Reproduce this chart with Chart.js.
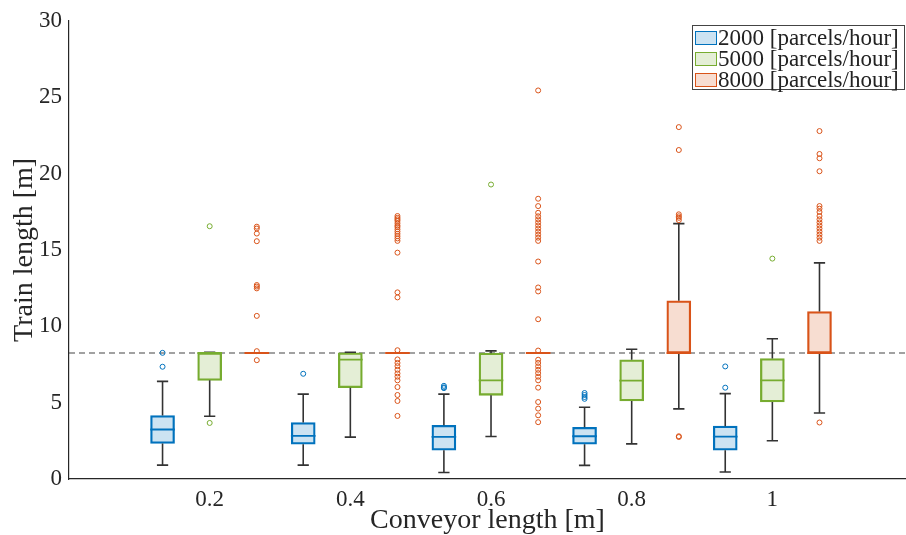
<!DOCTYPE html>
<html>
<head>
<meta charset="utf-8">
<script src="https://cdn.jsdelivr.net/npm/chart.js@4/dist/chart.umd.min.js"></script>
<style>
  body { margin: 0; background: #fff; }
  #wrap { position: relative; width: 906px; height: 535px; overflow: hidden; }
  #legend {
    position: absolute; left: 692px; top: 25px; width: 211px; height: 62px;
    border: 1px solid #444; background: #fff;
    font-family: 'Liberation Serif', serif; font-size: 23px; color: #222;
    padding-top: 1px; box-sizing: content-box;
  }
  .row { display: flex; align-items: center; height: 21px; white-space: nowrap; }
  .sw { width: 20px; height: 12px; margin: 0 1px 0 2px; border: 1.5px solid; flex: none; }
</style>
</head>
<body>
<div id="wrap">
  <canvas id="chart" width="911" height="535"></canvas>
  <div id="legend"></div>
</div>
<script>
// conveyor lengths (x) and throughput series
const lengths = [0.2, 0.4, 0.6, 0.8, 1];
const seriesNames = ['2000 [parcels/hour]', '5000 [parcels/hour]', '8000 [parcels/hour]'];
const limitLength = 8.25;

// 2000 parcels/hour
const low2000 = [0.91, 0.91, 0.43, 0.89, 0.46];
const q1_2000 = [2.33, 2.28, 1.89, 2.28, 1.89];
const med2000 = [3.24, 2.83, 2.76, 2.80, 2.78];
const q3_2000 = [4.15, 3.70, 3.52, 3.39, 3.46];
const high2000 = [6.39, 5.56, 5.56, 4.70, 5.59];
const out2000 = [[8.26, 7.35], [6.89], [6.1, 6.0, 5.95], [5.63, 5.5, 5.37, 5.25], [7.37, 5.98]];

// 5000 parcels/hour
const low5000 = [4.11, 2.74, 2.78, 2.30, 2.50];
const q1_5000 = [6.46, 5.98, 5.48, 5.11, 5.04];
const med5000 = [8.25, 7.81, 6.46, 6.44, 6.46];
const q3_5000 = [8.26, 8.26, 8.24, 7.81, 7.89];
const high5000 = [8.30, 8.30, 8.39, 8.50, 9.18];
const out5000 = [[16.55, 3.67], [], [19.28], [], [14.43]];

// 8000 parcels/hour
const low8000 = [8.25, 8.25, 8.25, 4.59, 4.32];
const q1_8000 = [8.25, 8.25, 8.25, 8.24, 8.24];
const med8000 = [8.25, 8.25, 8.25, 8.24, 8.24];
const q3_8000 = [8.25, 8.25, 8.25, 11.67, 10.96];
const high8000 = [8.25, 8.25, 8.25, 16.72, 14.15];
const out8000 = [
  [16.52, 16.4, 16.07, 15.57, 12.70, 12.6, 12.48, 10.68, 8.37, 7.78],
  [17.22, 17.1, 17.0, 16.9, 16.75, 16.6, 16.5, 16.35, 16.2, 16.05, 15.9, 15.75, 15.59, 14.82, 12.22, 11.89,
   8.43, 7.83, 7.6, 7.39, 7.15, 6.91, 6.7, 6.46, 6.02, 5.5, 5.11, 4.13],
  [25.44, 18.35, 17.87, 17.43, 17.2, 17.0, 16.8, 16.6, 16.4, 16.2, 16.0, 15.8, 15.59, 14.24, 12.54, 12.28, 10.46,
   8.41, 7.81, 7.6, 7.37, 7.15, 6.93, 6.7, 6.46, 5.98, 5.04, 4.61, 4.17, 3.72],
  [23.04, 21.54, 17.33, 17.2, 17.1, 16.95, 2.80, 2.75],
  [22.78, 21.28, 21.0, 20.15, 17.87, 17.7, 17.48, 17.22, 17.0, 16.8, 16.6, 16.4, 16.2, 16.0, 15.8, 15.59, 3.70]
];

const yTicks = [0, 5, 10, 15, 20, 25, 30];

const colors = ['#0072BD', '#77AC30', '#D95319'];
const fills = ['rgba(0,114,189,0.2)', 'rgba(119,172,48,0.2)', 'rgba(217,83,25,0.2)'];
const offsets = [-0.067, 0, 0.067];
const medHalf = 0.0175, capHalf = 0.008;
const fontFam = "'Liberation Serif', serif";

const stats = [
  {low: low2000, q1: q1_2000, med: med2000, q3: q3_2000, high: high2000, out: out2000},
  {low: low5000, q1: q1_5000, med: med5000, q3: q3_5000, high: high5000, out: out5000},
  {low: low8000, q1: q1_8000, med: med8000, q3: q3_8000, high: high8000, out: out8000}
];

const datasets = [];
const whisk = [];
const gap = x => ({x: x, y: null});

stats.forEach((s, k) => {
  const medPts = [];
  const outPts = [];
  const boxes = [];
  lengths.forEach((L, i) => {
    const x = L + offsets[k];
    boxes.push({x: x, y: [s.q1[i], s.q3[i]]});
    medPts.push({x: x - medHalf, y: s.med[i]}, {x: x + medHalf, y: s.med[i]}, gap(x));
    whisk.push({x: x, y: s.low[i]}, {x: x, y: s.q1[i]}, gap(x));
    whisk.push({x: x, y: s.q3[i]}, {x: x, y: s.high[i]}, gap(x));
    whisk.push({x: x - capHalf, y: s.low[i]}, {x: x + capHalf, y: s.low[i]}, gap(x));
    whisk.push({x: x - capHalf, y: s.high[i]}, {x: x + capHalf, y: s.high[i]}, gap(x));
    s.out[i].forEach(v => outPts.push({x: x, y: v}));
  });
  datasets.push({
    type: 'bar', label: seriesNames[k], data: boxes,
    backgroundColor: fills[k], borderColor: colors[k], borderWidth: 1.6,
    borderSkipped: false, barThickness: 24, grouped: false, order: 3
  });
  datasets.push({
    type: 'line', data: medPts, borderColor: colors[k], borderWidth: 1.8,
    pointRadius: 0, spanGaps: false, fill: false, order: 1
  });
  datasets.push({
    type: 'scatter', data: outPts, showLine: false,
    pointStyle: 'circle', pointRadius: 2.5, borderWidth: 1,
    borderColor: colors[k], backgroundColor: 'rgba(0,0,0,0)', order: 0
  });
});

datasets.push({
  type: 'line', data: whisk, borderColor: '#333', borderWidth: 1.6,
  pointRadius: 0, spanGaps: false, fill: false, order: 2
});
datasets.push({
  type: 'line', data: [{x: 0, y: limitLength}, {x: 1.25, y: limitLength}],
  borderColor: '#444', borderWidth: 1.2, borderDash: [6, 4],
  pointRadius: 0, fill: false, order: 4
});

new Chart(document.getElementById('chart'), {
  type: 'scatter',
  data: { datasets: datasets },
  options: {
    responsive: false,
    animation: false,
    layout: { padding: { top: 19, right: 0, left: 0, bottom: 0 } },
    plugins: { legend: { display: false }, tooltip: { enabled: false } },
    scales: {
      x: {
        type: 'linear', min: 0, max: 1.19, offset: false,
        grid: { display: false, offset: false, drawTicks: false },
        border: { display: true, color: '#262626', width: 1.2 },
        afterBuildTicks: axis => { axis.ticks = lengths.map(v => ({value: v})); },
        afterFit: axis => { axis.height = 56; },
        ticks: {
          padding: 7, color: '#262626', maxRotation: 0,
          font: { family: fontFam, size: 23 },
          callback: v => String(v)
        },
        title: {
          display: true, text: 'Conveyor length [m]', color: '#262626',
          font: { family: fontFam, size: 28, lineHeight: 1.0 }, padding: { top: 0, bottom: 0 }
        }
      },
      y: {
        min: 0, max: 30,
        grid: { display: false, drawTicks: false },
        border: { display: true, color: '#262626', width: 1.2 },
        afterBuildTicks: axis => { axis.ticks = yTicks.map(v => ({value: v})); },
        afterFit: axis => { axis.width = 69; },
        ticks: {
          padding: 7, color: '#262626',
          font: { family: fontFam, size: 23 }
        },
        title: {
          display: true, text: 'Train length [m]', color: '#262626',
          font: { family: fontFam, size: 28, lineHeight: 1.0 }, padding: { top: 11, bottom: 0 }
        }
      }
    }
  }
});

// legend box in the top right corner
const legend = document.getElementById('legend');
seriesNames.forEach((name, k) => {
  const row = document.createElement('div');
  row.className = 'row';
  const sw = document.createElement('span');
  sw.className = 'sw';
  sw.style.borderColor = colors[k];
  sw.style.background = fills[k];
  const txt = document.createElement('span');
  txt.textContent = name;
  row.appendChild(sw);
  row.appendChild(txt);
  legend.appendChild(row);
});
</script>
</body>
</html>
